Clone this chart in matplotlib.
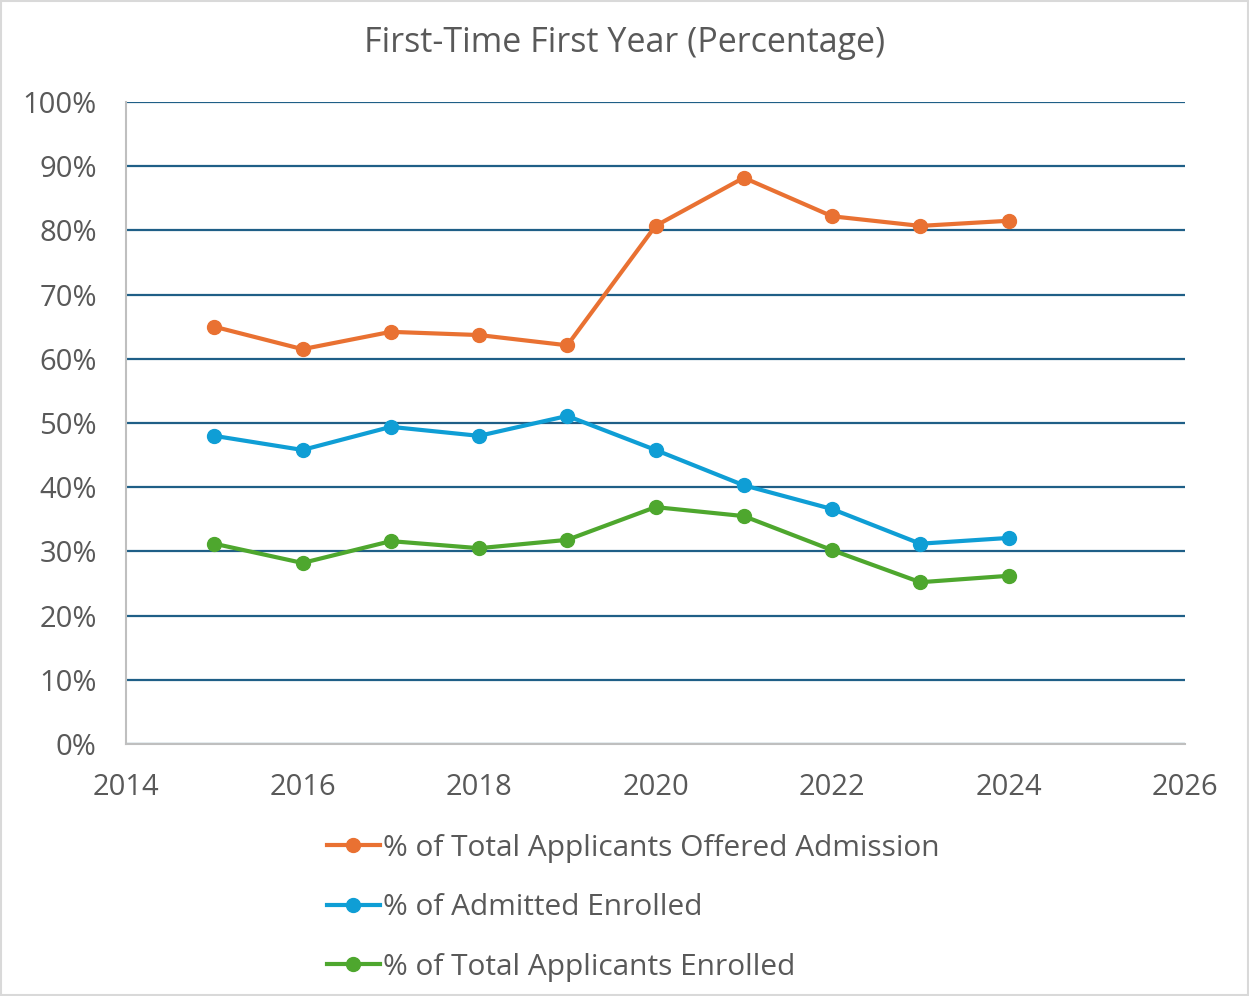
import matplotlib.pyplot as plt
from matplotlib.ticker import PercentFormatter

# values
years = [2015, 2016, 2017, 2018, 2019, 2020, 2021, 2022, 2023, 2024]
offered = [65.0, 61.5, 64.2, 63.7, 62.1, 80.7, 88.2, 82.2, 80.7, 81.5]
admitted_enrolled = [48.0, 45.8, 49.4, 48.0, 51.1, 45.8, 40.3, 36.6, 31.2, 32.1]
total_enrolled = [31.2, 28.2, 31.6, 30.5, 31.8, 36.9, 35.5, 30.2, 25.2, 26.2]

series_names = ["% of Total Applicants Offered Admission",
                "% of Admitted Enrolled",
                "% of Total Applicants Enrolled"]
colores = ["#e97132", "#0f9ed5", "#4ea72e"]
texto = "#595959"

plt.rcParams['font.family'] = ['Open Sans', 'DejaVu Sans']

fig = plt.figure(figsize=(12.49, 9.96), dpi=100)
ax = fig.add_axes([0.1009, 0.253, 0.8479, 0.6446])

for datos, nombre, c in zip([offered, admitted_enrolled, total_enrolled], series_names, colores):
    ax.plot(years, datos, color=c, lw=3, marker='o', ms=10, label=nombre, zorder=3)

ax.set_xlim(2014, 2026)
ax.set_ylim(0, 100)
ax.set_xticks(range(2014, 2027, 2))
ax.set_yticks(range(0, 101, 10))
ax.yaxis.set_major_formatter(PercentFormatter(decimals=0))
ax.grid(axis='y', color='#1f5f87', lw=1.6, zorder=1)
ax.tick_params(length=0, labelsize=21, colors=texto)
ax.tick_params(axis='y', pad=21)
ax.tick_params(axis='x', pad=21)
for lado in ['top', 'right']:
    ax.spines[lado].set_visible(False)
ax.spines['left'].set_color('#bfbfbf')
ax.spines['bottom'].set_color('#bfbfbf')
ax.spines['left'].set_linewidth(1.5)
ax.spines['bottom'].set_linewidth(1.5)

fig.text(0.5, 0.957, "First-Time First Year (Percentage)", ha='center', va='center',
         fontsize=24.5, color=texto)

fig.legend(loc='upper left', bbox_to_anchor=(0.2525, 0.175), frameon=False,
           fontsize=21.5, labelcolor=texto, handlelength=1.75, handletextpad=0.1,
           labelspacing=1.02, borderaxespad=0)

# borde gris alrededor
fig.patches.append(plt.Rectangle((0.001, 0.001), 0.998, 0.998, transform=fig.transFigure,
                                 fill=False, edgecolor='#d9d9d9', lw=1.5))

fig.savefig("out.png", dpi=100)
